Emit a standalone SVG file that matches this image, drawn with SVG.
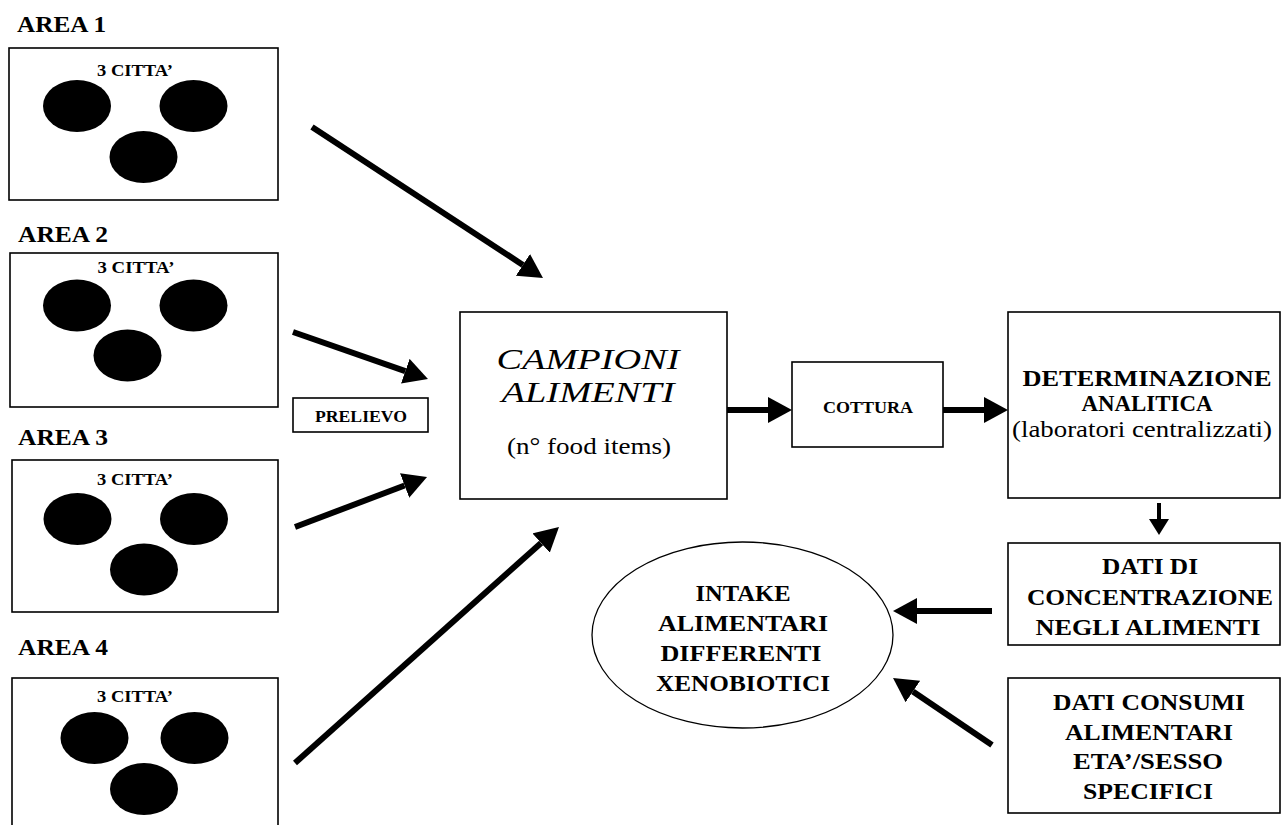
<svg xmlns="http://www.w3.org/2000/svg" width="1282" height="825" viewBox="0 0 1282 825">
<style>
.box{fill:#fff;stroke:#000;stroke-width:1.6}
.city{fill:#000}
.b{font-family:"Liberation Serif","Times New Roman",serif;font-weight:bold;fill:#000}
.r{font-family:"Liberation Serif","Times New Roman",serif;fill:#000}
.i{font-family:"Liberation Serif","Times New Roman",serif;font-style:italic;fill:#000}
.c{text-anchor:middle}
.area{font-size:24px}
.cit{font-size:17px}
.arr{stroke:#000;stroke-width:6;fill:none;marker-end:url(#head)}
.arrs{stroke:#000;stroke-width:4;fill:none;marker-end:url(#heads)}
</style>
<defs>
<marker id="head" markerUnits="userSpaceOnUse" markerWidth="24" markerHeight="26" refX="0" refY="13" orient="auto" viewBox="0 0 24 26">
<path d="M0,0 L24,13 L0,26 z" fill="#000"/>
</marker>
<marker id="heads" markerUnits="userSpaceOnUse" markerWidth="16" markerHeight="20" refX="0" refY="10" orient="auto" viewBox="0 0 16 20">
<path d="M0,0 L16,10 L0,20 z" fill="#000"/>
</marker>
</defs>
<rect width="1282" height="825" fill="#fff"/>

<g id="area1">
<text class="b area" x="17" y="32" textLength="89" lengthAdjust="spacingAndGlyphs">AREA 1</text>
<rect class="box" x="9" y="48" width="269" height="152"/>
<text class="b cit c" x="135" y="76" textLength="76" lengthAdjust="spacingAndGlyphs">3 CITTA’</text>
<ellipse class="city" cx="77" cy="106" rx="34" ry="26"/>
<ellipse class="city" cx="193.5" cy="106" rx="34" ry="26"/>
<ellipse class="city" cx="143.5" cy="157" rx="34" ry="26"/>
</g>

<g id="area2">
<text class="b area" x="18" y="242" textLength="90" lengthAdjust="spacingAndGlyphs">AREA 2</text>
<rect class="box" x="10" y="253" width="268" height="154"/>
<text class="b cit c" x="136" y="273" textLength="77" lengthAdjust="spacingAndGlyphs">3 CITTA’</text>
<ellipse class="city" cx="77" cy="305.5" rx="34" ry="26"/>
<ellipse class="city" cx="193.5" cy="305.5" rx="34" ry="26"/>
<ellipse class="city" cx="127.5" cy="355.5" rx="34" ry="26"/>
</g>

<g id="area3">
<text class="b area" x="18" y="445" textLength="90" lengthAdjust="spacingAndGlyphs">AREA 3</text>
<rect class="box" x="12" y="460" width="266" height="152"/>
<text class="b cit c" x="135" y="485" textLength="76" lengthAdjust="spacingAndGlyphs">3 CITTA’</text>
<ellipse class="city" cx="77.5" cy="519" rx="34" ry="26"/>
<ellipse class="city" cx="194" cy="519" rx="34" ry="26"/>
<ellipse class="city" cx="144" cy="569.5" rx="34" ry="26"/>
</g>

<g id="area4">
<text class="b area" x="18" y="655" textLength="90" lengthAdjust="spacingAndGlyphs">AREA 4</text>
<rect class="box" x="12" y="678" width="266" height="160"/>
<text class="b cit c" x="135" y="702" textLength="76" lengthAdjust="spacingAndGlyphs">3 CITTA’</text>
<ellipse class="city" cx="94.5" cy="738" rx="34" ry="26"/>
<ellipse class="city" cx="194.5" cy="738" rx="34" ry="26"/>
<ellipse class="city" cx="144" cy="789" rx="34" ry="26"/>
</g>

<g id="prelievo">
<rect class="box" x="293" y="398" width="135" height="34"/>
<text class="b c" x="361" y="422" font-size="17" textLength="92" lengthAdjust="spacingAndGlyphs">PRELIEVO</text>
</g>

<g id="campioni">
<rect class="box" x="460" y="312" width="267" height="187"/>
<text class="i c" x="588" y="369" font-size="29" textLength="183" lengthAdjust="spacingAndGlyphs">CAMPIONI</text>
<text class="i c" x="588" y="402" font-size="29" textLength="173" lengthAdjust="spacingAndGlyphs">ALIMENTI</text>
<text class="r c" x="589" y="454" font-size="24" textLength="164" lengthAdjust="spacingAndGlyphs">(n° food items)</text>
</g>

<g id="cottura">
<rect class="box" x="792" y="362" width="151" height="85"/>
<text class="b c" x="868" y="413" font-size="17" textLength="90" lengthAdjust="spacingAndGlyphs">COTTURA</text>
</g>

<g id="determinazione">
<rect class="box" x="1008" y="312" width="272" height="186"/>
<text class="b c" x="1147" y="386" font-size="23" textLength="249" lengthAdjust="spacingAndGlyphs">DETERMINAZIONE</text>
<text class="b c" x="1147" y="411" font-size="23" textLength="131" lengthAdjust="spacingAndGlyphs">ANALITICA</text>
<text class="r c" x="1142" y="437" font-size="24" textLength="260" lengthAdjust="spacingAndGlyphs">(laboratori centralizzati)</text>
</g>

<g id="datiConcentrazione">
<rect class="box" x="1008" y="543" width="272" height="102"/>
<text class="b c" x="1150" y="574" font-size="23" textLength="96" lengthAdjust="spacingAndGlyphs">DATI DI</text>
<text class="b c" x="1150" y="605" font-size="23" textLength="246" lengthAdjust="spacingAndGlyphs">CONCENTRAZIONE</text>
<text class="b c" x="1148" y="635" font-size="23" textLength="225" lengthAdjust="spacingAndGlyphs">NEGLI ALIMENTI</text>
</g>

<g id="datiConsumi">
<rect class="box" x="1008" y="678" width="272" height="135"/>
<text class="b c" x="1149" y="710" font-size="23" textLength="192" lengthAdjust="spacingAndGlyphs">DATI CONSUMI</text>
<text class="b c" x="1149" y="740" font-size="23" textLength="168" lengthAdjust="spacingAndGlyphs">ALIMENTARI</text>
<text class="b c" x="1148" y="769" font-size="23" textLength="150" lengthAdjust="spacingAndGlyphs">ETA’/SESSO</text>
<text class="b c" x="1148" y="799" font-size="23" textLength="130" lengthAdjust="spacingAndGlyphs">SPECIFICI</text>
</g>

<g id="intake">
<ellipse cx="742.5" cy="635" rx="150.5" ry="93" fill="#fff" stroke="#000" stroke-width="1.3"/>
<text class="b c" x="743" y="601" font-size="24" textLength="95" lengthAdjust="spacingAndGlyphs">INTAKE</text>
<text class="b c" x="743" y="631" font-size="24" textLength="170" lengthAdjust="spacingAndGlyphs">ALIMENTARI</text>
<text class="b c" x="741" y="661" font-size="24" textLength="161" lengthAdjust="spacingAndGlyphs">DIFFERENTI</text>
<text class="b c" x="743" y="691" font-size="24" textLength="174" lengthAdjust="spacingAndGlyphs">XENOBIOTICI</text>
</g>

<g id="connectors">
<line class="arr" x1="312" y1="127" x2="522.9" y2="264.9"/>
<line class="arr" x1="293" y1="332" x2="405.3" y2="371.1"/>
<line class="arr" x1="295" y1="527" x2="404.6" y2="485.5"/>
<line class="arr" x1="295" y1="763" x2="541.1" y2="543"/>
<line class="arr" x1="727" y1="410" x2="768" y2="410"/>
<line class="arr" x1="943" y1="410" x2="984" y2="410"/>
<line class="arrs" x1="1159" y1="503" x2="1159" y2="519"/>
<line class="arr" x1="992" y1="611" x2="917" y2="611"/>
<line class="arr" x1="992" y1="745" x2="912.9" y2="691.5"/>
</g>
</svg>
